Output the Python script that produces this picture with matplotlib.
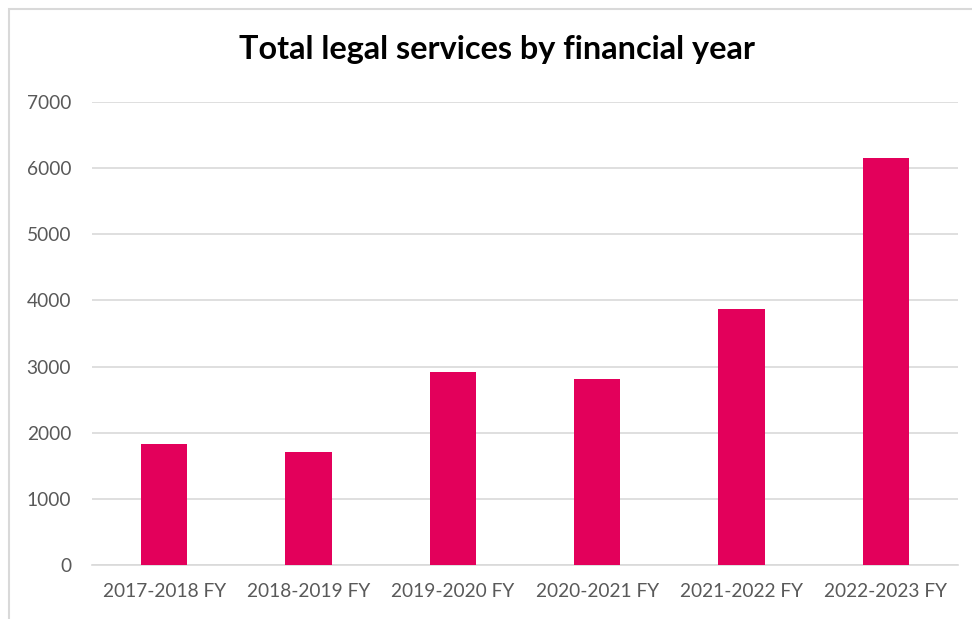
import matplotlib.pyplot as plt
from matplotlib.patches import Rectangle

# legal services per financial year
YEARS = ['2017-2018 FY', '2018-2019 FY', '2019-2020 FY',
         '2020-2021 FY', '2021-2022 FY', '2022-2023 FY']
TOTALS = [1830, 1707, 2925, 2805, 3865, 6155]
YTICKS = [0, 1000, 2000, 3000, 4000, 5000, 6000, 7000]

BAR_COLOR = '#E3005B'
GRID_COLOR = '#D9D9D9'
TEXT_COLOR = '#595959'

plt.rcParams['font.family'] = ['Lato', 'DejaVu Sans']

FIG = plt.figure(figsize=(9.72, 6.19), dpi=100)
AX = FIG.add_axes([92/972, 1 - 565/619, (958 - 92)/972, (565 - 102)/619])

X = range(len(YEARS))
AX.bar(X, TOTALS, width=0.32, color=BAR_COLOR, zorder=3)

AX.set_xlim(-0.5, len(YEARS) - 0.5)
AX.set_ylim(0, 7000)
AX.set_yticks(YTICKS)
AX.set_yticklabels([str(t) for t in YTICKS])
AX.set_xticks(list(X))
AX.set_xticklabels(YEARS)
AX.tick_params(length=0, labelsize=13.8, colors=TEXT_COLOR)
AX.tick_params(axis='y', pad=15)
AX.tick_params(axis='x', pad=13)

AX.yaxis.grid(True, color=GRID_COLOR, linewidth=1.2, zorder=0)
for side in ['top', 'right', 'left']:
    AX.spines[side].set_visible(False)
AX.spines['bottom'].set_color(GRID_COLOR)
AX.spines['bottom'].set_linewidth(1.2)

FIG.text(497/972, 1 - 50/619, 'Total legal services by financial year',
         ha='center', va='center', fontsize=23.3, fontweight='bold', color='black')

# chart frame
FIG.patches.append(Rectangle((9/972, -0.1), 1.1, 1 - 9/619 + 0.1,
                             transform=FIG.transFigure, fill=False,
                             edgecolor=GRID_COLOR, linewidth=1.5))

FIG.savefig('out.png', dpi=100, facecolor='white')
